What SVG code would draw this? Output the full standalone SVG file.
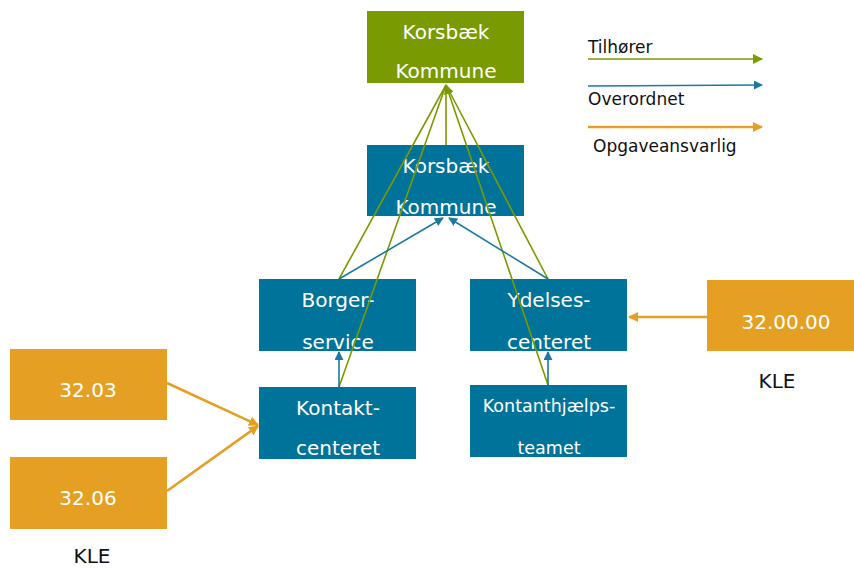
<svg xmlns="http://www.w3.org/2000/svg" width="854" height="568" viewBox="0 0 854 568">
<defs>
<style>
.t{font-family:"DejaVu Sans","Liberation Sans",sans-serif;fill:#fff;text-anchor:middle;font-size:20px}
.l{font-family:"DejaVu Sans","Liberation Sans",sans-serif;fill:#111;font-size:17px}
.g{fill:#7a9a01}
.b{fill:#00739a}
.o{fill:#e5a023}
.lg{stroke:#7a9a01;stroke-width:1.6;fill:none}
.lb{stroke:#1a7aa0;stroke-width:1.6;fill:none}
.lo{stroke:#e5a023;stroke-width:2.6;fill:none}
</style>
<marker id="agl" viewBox="0 0 10 10" refX="9" refY="5" markerWidth="10" markerHeight="10" orient="auto" markerUnits="userSpaceOnUse"><path d="M0,0L10,5L0,10z" fill="#7a9a01"/></marker>
<marker id="ab" viewBox="0 0 10 10" refX="9" refY="5" markerWidth="9" markerHeight="9" orient="auto" markerUnits="userSpaceOnUse"><path d="M0,0L10,5L0,10z" fill="#1a7aa0"/></marker>
<marker id="ao" viewBox="0 0 10 10" refX="9" refY="5" markerWidth="10" markerHeight="10" orient="auto" markerUnits="userSpaceOnUse"><path d="M0,0L10,5L0,10z" fill="#e5a023"/></marker>
</defs>
<rect width="854" height="568" fill="#fff"/>
<g id="n-korsbaek-green"><rect class="g" x="367" y="11" width="157" height="72"/><text class="t" x="446" y="39">Korsbæk</text><text class="t" x="446" y="78">Kommune</text></g>
<g id="n-korsbaek-blue"><rect class="b" x="367" y="145" width="157" height="71"/><text class="t" x="446" y="173">Korsbæk</text><text class="t" x="446" y="214">Kommune</text></g>
<g id="n-borger"><rect class="b" x="259" y="279" width="157" height="72"/><text class="t" x="338" y="307">Borger-</text><text class="t" x="338" y="349">service</text></g>
<g id="n-ydelses"><rect class="b" x="470" y="279" width="157" height="72"/><text class="t" x="549" y="307">Ydelses-</text><text class="t" x="549" y="349">centeret</text></g>
<g id="n-kontakt"><rect class="b" x="259" y="387" width="157" height="72"/><text class="t" x="338" y="415">Kontakt-</text><text class="t" x="338" y="455">centeret</text></g>
<g id="n-kontanthjaelp"><rect class="b" x="470" y="385" width="157" height="72"/><text class="t" x="549" y="412" style="font-size:17.5px">Kontanthjælps-</text><text class="t" x="549" y="454" style="font-size:17.5px">teamet</text></g>
<g id="n-3203"><rect class="o" x="10" y="349" width="157" height="71"/><text class="t" x="88" y="397">32.03</text></g>
<g id="n-3206"><rect class="o" x="10" y="457" width="157" height="72"/><text class="t" x="88" y="505">32.06</text></g>
<g id="n-320000"><rect class="o" x="707" y="280" width="147" height="71"/><text class="t" x="786" y="329">32.00.00</text></g>
<g id="labels"><text class="l" x="92" y="563" text-anchor="middle" style="font-size:20px">KLE</text><text class="l" x="777" y="388" text-anchor="middle" style="font-size:20px">KLE</text></g>
<g id="connectors">
<path class="lg" d="M446,145L446,85"/>
<path class="lg" d="M339,279L446,85"/>
<path class="lg" d="M339,387L446,85"/>
<path class="lg" d="M548,279L446,85"/>
<path class="lg" d="M548,385L446,85" marker-end="url(#agl)"/>
<path class="lb" d="M339,279L443,218" marker-end="url(#ab)"/>
<path class="lb" d="M548,279L449,218" marker-end="url(#ab)"/>
<path class="lb" d="M339,387L339,352" marker-end="url(#ab)"/>
<path class="lb" d="M548,385L548,352" marker-end="url(#ab)"/>
<path class="lo" d="M167,383L258,425" marker-end="url(#ao)"/>
<path class="lo" d="M167,491L258,426" marker-end="url(#ao)"/>
<path class="lo" d="M707,317L629,317" marker-end="url(#ao)"/>
</g>
<g id="legend">
<path class="lg" d="M588,59L762,59" stroke-width="2" marker-end="url(#agl)"/>
<path class="lb" d="M588,86L762,85" stroke-width="2" marker-end="url(#ab)"/>
<path class="lo" d="M588,127L762,127" stroke-width="2" marker-end="url(#ao)"/>
<text class="l" x="588" y="53">Tilhører</text>
<text class="l" x="588" y="105">Overordnet</text>
<text class="l" x="593" y="152">Opgaveansvarlig</text>
</g>
</svg>
